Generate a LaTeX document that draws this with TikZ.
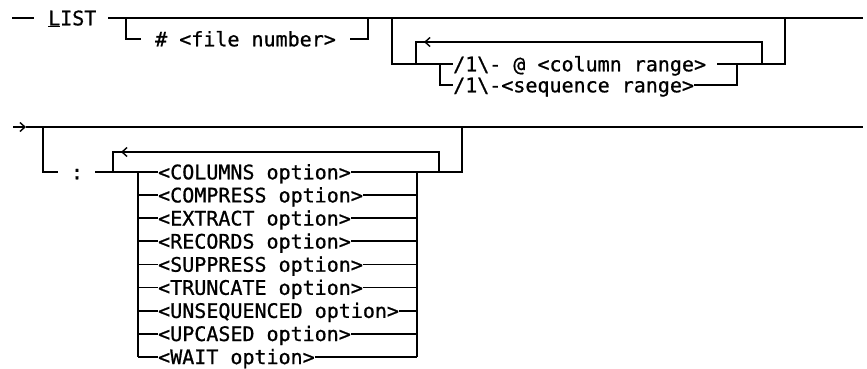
\documentclass[tikz,border=0pt]{standalone}
\usepackage{fontspec}
\newfontfamily\diagmono[FakeBold=0.9]{DejaVu Sans Mono}
\usetikzlibrary{arrows.meta}
\begin{document}
\begin{tikzpicture}[x=1pt,y=-1pt,
  ln/.style={line width=1.8pt,line cap=butt,line join=miter},
  txt/.style={inner sep=0pt,anchor=west,text height=14.6pt,text depth=0pt,
    font=\diagmono\fontsize{20}{24}\selectfont},
  back/.style={line width=1.8pt,-{Straight Barb[length=5pt,width=9pt,line width=1.4pt]}}]
\useasboundingbox (0,0) rectangle (867,369);
% ---------- row 1 ----------
\coordinate (s1a) at (12,18);
\coordinate (s1b) at (34,18);
\node[txt] (list) at (48,18) {\underline{L}IST};
\coordinate (m1a) at (108,18);
\coordinate (m1b) at (863,18);
\coordinate (ba1) at (126,18);
\coordinate (ba2) at (141,39);
\node[txt] (file) at (155,39) {\# <file number>};
\coordinate (ba3) at (350,39);
\coordinate (ba4) at (368,18);
\coordinate (bb1) at (392,18);
\node[txt] (col) at (453,64) {/1\textbackslash- @ <column range>};
\node[txt] (seq) at (453,85) {/1\textbackslash-<sequence range>};
\coordinate (bc1) at (717,64);
\coordinate (bc2) at (785,18);
\coordinate (lp1) at (416,64);
\coordinate (lp2) at (762,42);
\coordinate (sq1) at (440,64);
\coordinate (sq2) at (737,64);
\coordinate (ar1a) at (436,42);
\coordinate (ar1b) at (424,42);
\draw[ln] (s1a) -- (s1b);
\draw[ln] (m1a) -- (m1b);
\draw[ln] (ba1) |- (ba2);
\draw[ln] (ba3) -| (ba4);
\draw[ln] (bb1) |- (col.west);
\draw[ln] (lp1) |- (lp2) -- (lp2 |- col.west);
\draw[ln] (sq1) |- (seq.west);
\draw[ln] (seq.east) -| (sq2);
\draw[ln] (bc1) -| (bc2);
\draw[back] (ar1a) -- (ar1b);
% ---------- row 2 ----------
\coordinate (m2a) at (13,127);
\coordinate (m2b) at (26,127);
\coordinate (m2c) at (863,127);
\draw[ln,-{Straight Barb[length=5pt,width=9pt,line width=1.4pt]}] (m2a) -- (m2b);
\draw[ln] (m2b) -- (m2c);
\coordinate (cb1) at (43,127);
\coordinate (cb2) at (58,172);
\node[inner sep=0pt,text height=14.6pt,text depth=0pt,font=\diagmono\fontsize{20}{24}\selectfont] (colon) at (77,172) {:};
\coordinate (cl1) at (95,172);
\coordinate (ol) at (138,172);
\coordinate (or) at (417,172);
\coordinate (lq1) at (113,172);
\coordinate (lq2) at (439,152);
\coordinate (ex) at (462,127);
\coordinate (ar2a) at (134,152);
\coordinate (ar2b) at (121,152);
\draw[ln] (cb1) |- (cb2);
\draw[ln] (cl1) -- (ol);
\draw[ln] (lq1) |- (lq2) -- (lq2 |- or);
\draw[back] (ar2a) -- (ar2b);
\draw[ln] (or) -| (ex);
\foreach \i/\t in {0/COLUMNS,1/COMPRESS,2/EXTRACT,3/RECORDS,4/SUPPRESS,5/TRUNCATE,6/UNSEQUENCED,7/UPCASED,8/WAIT}{
  \node[txt] (o\i) at (158,172+23.1*\i) {<\t\ option>};
  \draw[ln] (ol |- o\i.west) -- (o\i.west);
  \draw[ln] (o\i.east) -- (or |- o\i.west);
}
\draw[ln] (ol) -- (ol |- o8.west);
\draw[ln] (or) -- (or |- o8.west);
\end{tikzpicture}
\end{document}
